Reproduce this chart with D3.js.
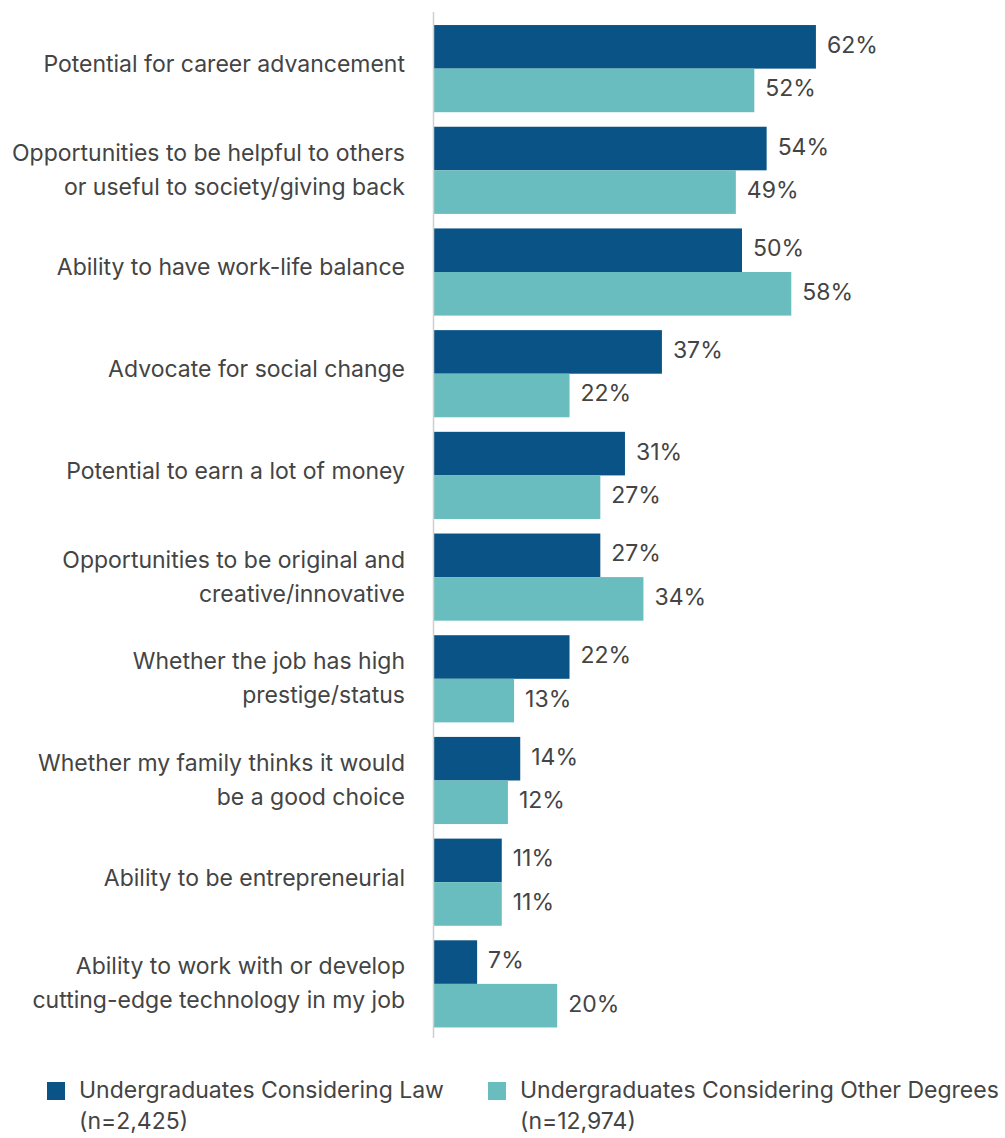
<!DOCTYPE html>
<html>
<head>
<meta charset="utf-8">
<script src="https://cdn.jsdelivr.net/npm/d3@7"></script>
<style>
  html, body { margin: 0; padding: 0; background: #fff; }
  svg { display: block; font-family: Inter, Roboto, "Noto Sans", sans-serif; }
</style>
</head>
<body>
<svg id="chart" width="1005" height="1138"></svg>
<script>
// Job factors considered important, by group (percent of respondents)
const categories = [
  ["Potential for career advancement"],
  ["Opportunities to be helpful to others", "or useful to society/giving back"],
  ["Ability to have work-life balance"],
  ["Advocate for social change"],
  ["Potential to earn a lot of money"],
  ["Opportunities to be original and", "creative/innovative"],
  ["Whether the job has high", "prestige/status"],
  ["Whether my family thinks it would", "be a good choice"],
  ["Ability to be entrepreneurial"],
  ["Ability to work with or develop", "cutting-edge technology in my job"]
];
const lawValues   = [62, 54, 50, 37, 31, 27, 22, 14, 11, 7];
const otherValues = [52, 49, 58, 22, 27, 34, 13, 12, 11, 20];
const seriesNames = [
  ["Undergraduates Considering Law", "(n=2,425)"],
  ["Undergraduates Considering Other Degrees", "(n=12,974)"]
];
const seriesColors = ["#0a5386", "#69bdbe"];

const svg = d3.select("#chart");
const textColor = "#444";
const fontSize = 23;

const keys = categories.map((c, i) => i);
const y = d3.scaleBand().domain(keys).range([10.5, 1042]).paddingInner(0.143).paddingOuter(0.143);
const ySub = d3.scaleBand().domain([0, 1]).range([0, y.bandwidth()]);
const x = d3.scaleLinear().domain([0, 100]).range([434, 1050]);

const rows = categories.map((c, i) => ({ i, label: c, values: [lawValues[i], otherValues[i]] }));

// Category groups
const g = svg.selectAll("g.row").data(rows).join("g")
  .attr("class", "row")
  .attr("transform", d => `translate(0,${y(d.i)})`);

g.selectAll("rect").data(d => d.values.map((v, s) => ({ v, s }))).join("rect")
  .attr("x", x(0))
  .attr("y", d => ySub(d.s))
  .attr("width", d => x(d.v) - x(0))
  .attr("height", ySub.bandwidth())
  .attr("fill", d => seriesColors[d.s]);

// Value labels just past the bar ends
g.selectAll("text.val").data(d => d.values.map((v, s) => ({ v, s }))).join("text")
  .attr("class", "val")
  .attr("x", d => x(d.v) + 11)
  .attr("y", d => ySub(d.s) + ySub.bandwidth() / 2 + 6)
  .attr("font-size", fontSize)
  .attr("fill", textColor)
  .text(d => d.v + "%");

// Category labels, right-aligned before the axis line
const lineGap = 34;
g.append("text")
  .attr("text-anchor", "end")
  .attr("font-size", fontSize)
  .attr("fill", textColor)
  .selectAll("tspan").data(d => d.label.map((t, k) => ({ t, k, n: d.label.length }))).join("tspan")
  .attr("x", 405)
  .attr("y", d => y.bandwidth() / 2 + (d.n === 1 ? 3.5 : -9.5 + d.k * lineGap))
  .text(d => d.t);

// Baseline
svg.append("line")
  .attr("x1", x(0) - 0.5).attr("x2", x(0) - 0.5)
  .attr("y1", 12).attr("y2", 1038)
  .attr("stroke", "#cfcfcf").attr("stroke-width", 1.5);

// Legend
const legendX = [47, 488];
const lg = svg.selectAll("g.legend").data(seriesNames).join("g")
  .attr("class", "legend")
  .attr("transform", (d, i) => `translate(${legendX[i]},1082)`);
lg.append("rect").attr("width", 18).attr("height", 18).attr("fill", (d, i) => seriesColors[i]);
lg.append("text")
  .attr("font-size", fontSize)
  .attr("fill", textColor)
  .selectAll("tspan").data(d => d).join("tspan")
  .attr("x", 32)
  .attr("y", (d, k) => 16 + k * 31)
  .text(d => d);
</script>
</body>
</html>
